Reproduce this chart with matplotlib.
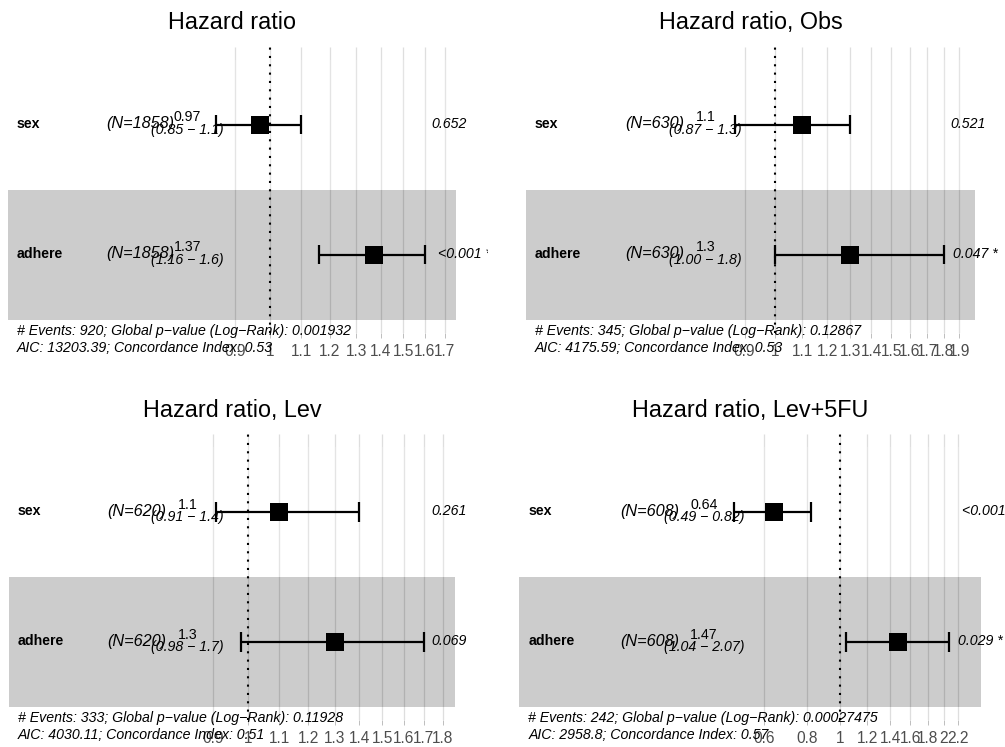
import numpy as np
import matplotlib.pyplot as plt
from matplotlib.ticker import FixedLocator, NullLocator
from matplotlib.transforms import Bbox

plt.rcParams['font.family'] = ['Liberation Sans', 'DejaVu Sans']

# ---------------------------------------------------------------------
# Cox model summaries: one forest panel per study arm
# ---------------------------------------------------------------------
titles = ["Hazard ratio", "Hazard ratio, Obs", "Hazard ratio, Lev", "Hazard ratio, Lev+5FU"]
variables = ["sex", "adhere"]
n_obs = [1858, 630, 620, 608]

hr = [[0.97, 1.37], [1.1, 1.3], [1.1, 1.3], [0.64, 1.47]]
ci_low = [[0.85, 1.16], [0.87, 1.00], [0.91, 0.98], [0.49, 1.04]]
ci_high = [[1.1, 1.6], [1.3, 1.8], [1.4, 1.7], [0.82, 2.07]]
hr_text = [["0.97", "1.37"], ["1.1", "1.3"], ["1.1", "1.3"], ["0.64", "1.47"]]
ci_text = [["(0.85 \u2212 1.1)", "(1.16 \u2212 1.6)"],
           ["(0.87 \u2212 1.3)", "(1.00 \u2212 1.8)"],
           ["(0.91 \u2212 1.4)", "(0.98 \u2212 1.7)"],
           ["(0.49 \u2212 0.82)", "(1.04 \u2212 2.07)"]]
p_text = [["0.652", "<0.001 ***"], ["0.521", "0.047 *"],
          ["0.261", "0.069"], ["<0.001 ***", "0.029 *"]]

n_events = [920, 345, 333, 242]
global_p = ["0.001932", "0.12867", "0.11928", "0.00027475"]
aic = ["13203.39", "4175.59", "4030.11", "2958.8"]
concordance = ["0.53", "0.53", "0.51", "0.57"]

breaks = [
    [0.9, 1, 1.1, 1.2, 1.3, 1.4, 1.5, 1.6, 1.7],
    [0.9, 1, 1.1, 1.2, 1.3, 1.4, 1.5, 1.6, 1.7, 1.8, 1.9],
    [0.9, 1, 1.1, 1.2, 1.3, 1.4, 1.5, 1.6, 1.7, 1.8],
    [0.6, 0.8, 1, 1.2, 1.4, 1.6, 1.8, 2, 2.2],
]

# page layout in pixels
W, H, DPI = 1005, 747, 100
band_px = [(8, 456), (526, 975), (9, 455), (519, 981)]
top_row_px = [124.5, 124.5, 512, 512]
clip_px = [(0, 488), (505, 1005), (0, 488), (505, 1005)]
ROW_H = 130
FS = 10.2
FS_N = 11.7
MINUS = "\u2212"

fig = plt.figure(figsize=(W / DPI, H / DPI), dpi=DPI)
renderer = fig.canvas.get_renderer()


def forest_panel(k):
    lo = np.log(np.array(ci_low[k]))
    hi = np.log(np.array(ci_high[k]))
    rangeb = np.array([min(lo.min(), hi.min()), max(lo.max(), hi.max())])
    span = rangeb[1] - rangeb[0]
    rangeplot = np.array([rangeb[0] - span, rangeb[1] + 0.15 * span])
    width = rangeplot[1] - rangeplot[0]

    # panel box: band +/- 2% expansion, rows 0.4 .. 2.6
    bl, br = band_px[k]
    bw = br - bl
    left = bl - 0.02 * bw
    right = br + 0.02 * bw
    top = top_row_px[k] - 0.6 * ROW_H
    bottom = top_row_px[k] + 1.6 * ROW_H
    ax = fig.add_axes([left / W, 1 - bottom / H, (right - left) / W, (bottom - top) / H])
    ax.set_xscale("log")
    ax.set_xlim(np.exp(rangeplot[0] - 0.02 * width), np.exp(rangeplot[1] + 0.02 * width))
    ax.set_ylim(0.4, 2.6)
    for s in ax.spines.values():
        s.set_visible(False)

    ax.xaxis.set_major_locator(FixedLocator(breaks[k]))
    ax.xaxis.set_minor_locator(NullLocator())
    ax.set_xticklabels(["%g" % b for b in breaks[k]])
    ax.tick_params(axis="x", length=3.5, width=0.6, color="#B3B3B3",
                   labelsize=11.2, labelcolor="#4D4D4D", pad=4.5)
    ax.tick_params(axis="y", left=False, labelleft=False)
    ax.vlines(breaks[k], 0.4, 2.6, color="#DEDEDE", lw=0.9, zorder=0.5)

    # rows: top = sex (y=2), bottom = adhere (y=1)
    rows = np.array([2, 1])
    x0, x1 = np.exp(rangeplot)
    ax.fill_betweenx([1.5, 2.5], x0, x1, color="white", alpha=0.2, lw=0, zorder=1)
    ax.fill_betweenx([0.5, 1.5], x0, x1, color="black", alpha=0.2, lw=0, zorder=1)

    ax.axvline(1, color="black", lw=1.5, ls=(0, (1, 3)), zorder=2)
    ax.hlines(rows, ci_low[k], ci_high[k], color="black", lw=1.6, zorder=3)
    ax.vlines(ci_low[k], rows - 0.075, rows + 0.075, color="black", lw=1.6, zorder=3)
    ax.vlines(ci_high[k], rows - 0.075, rows + 0.075, color="black", lw=1.6, zorder=3)
    ax.scatter(hr[k], rows, marker="s", s=150, color="black", lw=0, zorder=4)

    clip = Bbox([[clip_px[k][0], 0], [clip_px[k][1], H]])
    x_var = np.exp(rangeplot[0] + 0.02 * width)
    x_n = np.exp(rangeplot[0] + 0.22 * width)
    x_ci = np.exp(rangeplot[0] + 0.40 * width)
    x_p = np.exp(rangeb[1])

    def label(txt, x, y, dy, ha="left", weight="normal", style="normal", size=FS):
        t = ax.annotate(txt, xy=(x, y), xytext=(0, dy), textcoords="offset points",
                        ha=ha, va="baseline", fontsize=size, fontweight=weight,
                        fontstyle=style, annotation_clip=False, zorder=5)
        t.set_clip_box(clip)
        t.set_clip_on(True)
        return t

    for i, y in enumerate(rows):
        label(variables[i], x_var, y, -2.5, weight="bold")
        label("(N=%d)" % n_obs[k], x_n, y, -2.8, style="italic", size=FS_N)
        label(hr_text[k][i], x_ci, y, 2.2, ha="center")
        label(ci_text[k][i], x_ci, y, -6.8, ha="center", style="italic")
        t = label(p_text[k][i], x_p, y, -2.5, style="italic")
        w = t.get_window_extent(renderer).width
        t.xyann = (0.2 * w * 72 / DPI, -2.5)

    footer = ("# Events: %d; Global p%svalue (Log%sRank): %s \nAIC: %s; Concordance Index: %s"
              % (n_events[k], MINUS, MINUS, global_p[k], aic[k], concordance[k]))
    ft = ax.annotate(footer, xy=(x_var, 0.5), xytext=(0, -3), textcoords="offset points",
                     ha="left", va="top", fontsize=FS, fontstyle="italic",
                     linespacing=1.3, annotation_clip=False, zorder=5)
    ft.set_clip_box(clip)
    ft.set_clip_on(True)

    fig.text((left + right) / 2 / W, 1 - (top - 24) / H, titles[k],
             ha="center", va="center", fontsize=16.8)


for k in range(4):
    forest_panel(k)

fig.savefig("out.png", dpi=DPI)
